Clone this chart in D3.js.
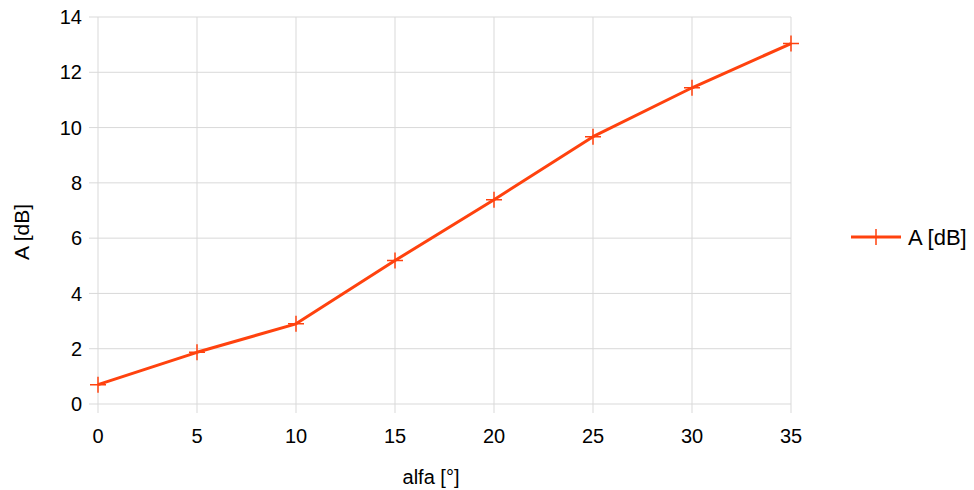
<!DOCTYPE html>
<html>
<head>
<meta charset="utf-8">
<script src="https://cdn.jsdelivr.net/npm/d3@7"></script>
<style>
  body { margin: 0; background: #fff; }
  svg text { font-family: "Liberation Sans", Arial, sans-serif; fill: #000; }
</style>
</head>
<body>
<div id="chart-container"></div>
<script>
// data
const alfa = [0, 5, 10, 15, 20, 25, 30, 35];
const aDb = [0.7, 1.87, 2.9, 5.19, 7.39, 9.67, 11.44, 13.04];
const xTicks = [0, 5, 10, 15, 20, 25, 30, 35];
const yTicks = [0, 2, 4, 6, 8, 10, 12, 14];
const seriesName = "A [dB]";

const width = 974, height = 490;
const marginLeft = 98, marginRight = 183, marginTop = 17, marginBottom = 86;
const lineColor = "#ff420e";
const gridColor = "#d9d9d9";

const svg = d3.select("#chart-container")
  .append("svg")
  .attr("width", width)
  .attr("height", height);

const xScale = d3.scaleLinear()
  .domain([0, 35])
  .range([marginLeft, width - marginRight]);

const yScale = d3.scaleLinear()
  .domain([0, 14])
  .range([height - marginBottom, marginTop]);

// gridlines (incl. little outward ticks)
svg.append("g")
  .selectAll("line")
  .data(yTicks)
  .enter()
  .append("line")
  .attr("x1", marginLeft - 9)
  .attr("x2", width - marginRight)
  .attr("y1", d => yScale(d))
  .attr("y2", d => yScale(d))
  .attr("stroke", gridColor)
  .attr("stroke-width", 1);

svg.append("g")
  .selectAll("line")
  .data(xTicks)
  .enter()
  .append("line")
  .attr("x1", d => xScale(d))
  .attr("x2", d => xScale(d))
  .attr("y1", marginTop)
  .attr("y2", height - marginBottom + 9)
  .attr("stroke", gridColor)
  .attr("stroke-width", 1);

// tick labels
svg.append("g")
  .selectAll("text")
  .data(yTicks)
  .enter()
  .append("text")
  .attr("x", marginLeft - 16)
  .attr("y", d => yScale(d))
  .attr("dy", "0.36em")
  .attr("text-anchor", "end")
  .style("font-size", "20px")
  .text(d => d);

svg.append("g")
  .selectAll("text")
  .data(xTicks)
  .enter()
  .append("text")
  .attr("x", d => xScale(d))
  .attr("y", height - marginBottom + 39)
  .attr("text-anchor", "middle")
  .style("font-size", "20px")
  .text(d => d);

// axis titles
svg.append("text")
  .attr("x", 431)
  .attr("y", 484)
  .attr("text-anchor", "middle")
  .style("font-size", "20px")
  .text("alfa [°]");

svg.append("text")
  .attr("transform", "translate(29, 232) rotate(-90)")
  .attr("text-anchor", "middle")
  .style("font-size", "21px")
  .text("A [dB]");

// the line
const points = alfa.map((a, i) => [a, aDb[i]]);
const line = d3.line()
  .x(d => xScale(d[0]))
  .y(d => yScale(d[1]));

svg.append("path")
  .datum(points)
  .attr("d", line)
  .attr("fill", "none")
  .attr("stroke", lineColor)
  .attr("stroke-width", 3)
  .attr("stroke-linejoin", "round");

// plus markers
svg.append("g")
  .selectAll("path")
  .data(points)
  .enter()
  .append("path")
  .attr("transform", d => `translate(${xScale(d[0])},${yScale(d[1])})`)
  .attr("d", "M-8,0H8M0,-8V8")
  .attr("stroke", lineColor)
  .attr("stroke-width", 1.5);

// legend
const legend = svg.append("g").attr("transform", "translate(851, 237)");
legend.append("line")
  .attr("x1", 0).attr("x2", 50)
  .attr("stroke", lineColor)
  .attr("stroke-width", 3);
legend.append("path")
  .attr("transform", "translate(25,0)")
  .attr("d", "M0,-8V8")
  .attr("stroke", lineColor)
  .attr("stroke-width", 1.5);
legend.append("text")
  .attr("x", 57)
  .attr("dy", "0.36em")
  .style("font-size", "22px")
  .text(seriesName);
</script>
</body>
</html>
